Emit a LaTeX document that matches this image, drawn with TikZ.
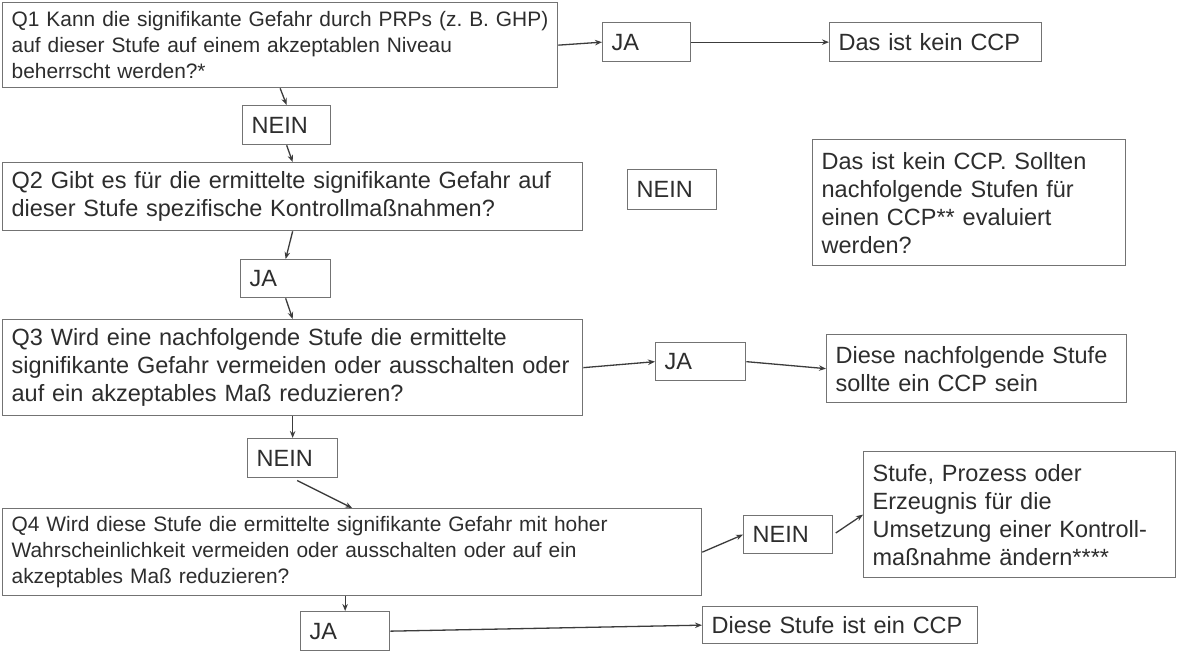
\documentclass[tikz,border=0pt]{standalone}
\usepackage{fontspec}
\setmainfont{Liberation Sans}
\usetikzlibrary{arrows.meta}
\definecolor{bordercol}{RGB}{115,115,115}
\definecolor{arrowcol}{RGB}{60,60,60}
\definecolor{textcol}{RGB}{45,45,45}
\tikzset{
  bx/.style={draw=bordercol, line width=1.3pt, anchor=north west, inner xsep=9pt, inner ysep=0pt,
    align=left, text=textcol, font=\frenchspacing\fontsize{23.5}{28}\selectfont},
  qsmall/.style={font=\frenchspacing\fontsize{20.9}{26}\selectfont},
  arr/.style={draw=arrowcol, line width=1.3pt, -{Stealth[length=7pt,width=5.5pt]}}
}
\begin{document}
\begin{tikzpicture}[x=1pt,y=-1pt]
\fill[white] (0,0) rectangle (1177,653);
\useasboundingbox (0,0) rectangle (1177,653);

\node[bx, qsmall, minimum width=555pt, minimum height=85pt, text width=537pt] (q1) at (2,2)
  {\mbox{Q1 Kann die signifikante Gefahr durch PRPs (z. B. GHP)}\\auf dieser Stufe auf einem akzeptablen Niveau\\beherrscht werden?*};
\node[bx, minimum width=88pt, minimum height=39pt, text width=70pt] (ja1) at (602,22) {JA};
\node[bx, minimum width=212pt, minimum height=39pt, text width=194pt] (k1) at (829,22) {Das ist kein CCP};
\node[bx, minimum width=88pt, minimum height=39pt, text width=70pt] (n1) at (242,105) {NEIN};

\node[bx, minimum width=580pt, minimum height=68pt, text width=562pt] (q2) at (2,162)
  {Q2 Gibt es für die ermittelte signifikante Gefahr auf\\dieser Stufe spezifische Kontrollmaßnahmen?};
\node[bx, minimum width=89pt, minimum height=40pt, text width=71pt] (nf) at (627,169) {NEIN};
\node[bx, minimum width=313pt, minimum height=126pt, text width=295pt] (k2) at (812,139)
  {Das ist kein CCP. Sollten\\nachfolgende Stufen für\\einen CCP** evaluiert\\werden?};
\node[bx, minimum width=90pt, minimum height=38pt, text width=72pt] (ja2) at (240,259) {JA};

\node[bx, minimum width=580pt, minimum height=96pt, text width=562pt] (q3) at (2,319)
  {Q3 Wird eine nachfolgende Stufe die ermittelte\\signifikante Gefahr vermeiden oder ausschalten oder\\auf ein akzeptables Maß reduzieren?};
\node[bx, minimum width=90pt, minimum height=38pt, text width=72pt] (ja3) at (655,342) {JA};
\node[bx, minimum width=300pt, minimum height=68pt, text width=282pt] (s3) at (826,334)
  {Diese nachfolgende Stufe\\sollte ein CCP sein};
\node[bx, minimum width=90pt, minimum height=39pt, text width=72pt] (n3) at (247,438) {NEIN};

\node[bx, qsmall, minimum width=699pt, minimum height=87pt, text width=681pt] (q4) at (2,508)
  {Q4 Wird diese Stufe die ermittelte signifikante Gefahr mit hoher\\Wahrscheinlichkeit vermeiden oder ausschalten oder auf ein\\akzeptables Maß reduzieren?};
\node[bx, minimum width=89pt, minimum height=38pt, text width=71pt] (n4) at (743,515) {NEIN};
\node[bx, minimum width=312pt, minimum height=126pt, text width=294pt] (s4) at (863,451)
  {Stufe, Prozess oder\\Erzeugnis für die\\Umsetzung einer Kontroll-\\maßnahme ändern****};
\node[bx, minimum width=89pt, minimum height=39pt, text width=71pt] (ja4) at (300,611) {JA};
\node[bx, minimum width=275pt, minimum height=37pt, text width=257pt] (c4) at (702,606) {Diese Stufe ist ein CCP};

\draw[arr] (q1.east) -- (ja1.west);
\draw[arr] (ja1.east) -- (k1.west);
\draw[arr] (q1.south) -- (n1.north);
\draw[arr] (n1.south) -- (q2.north);
\draw[arr] (q2.south) -- (ja2.north);
\draw[arr] (ja2.south) -- (q3.north);
\draw[arr] (q3.east) -- (ja3.west);
\draw[arr] (ja3.east) -- (s3.west);
\draw[arr] (q3.south) -- (n3.north);
\draw[arr, shorten <=5pt] (n3.south) -- (q4.north);
\draw[arr] (q4.east) -- (n4.west);
\draw[arr, shorten <=3pt] (n4.east) -- (s4.west);
\draw[arr] (q4.south -| ja4.north) -- (ja4.north);
\draw[arr] (ja4.east) -- (c4.west);
\end{tikzpicture}
\end{document}
